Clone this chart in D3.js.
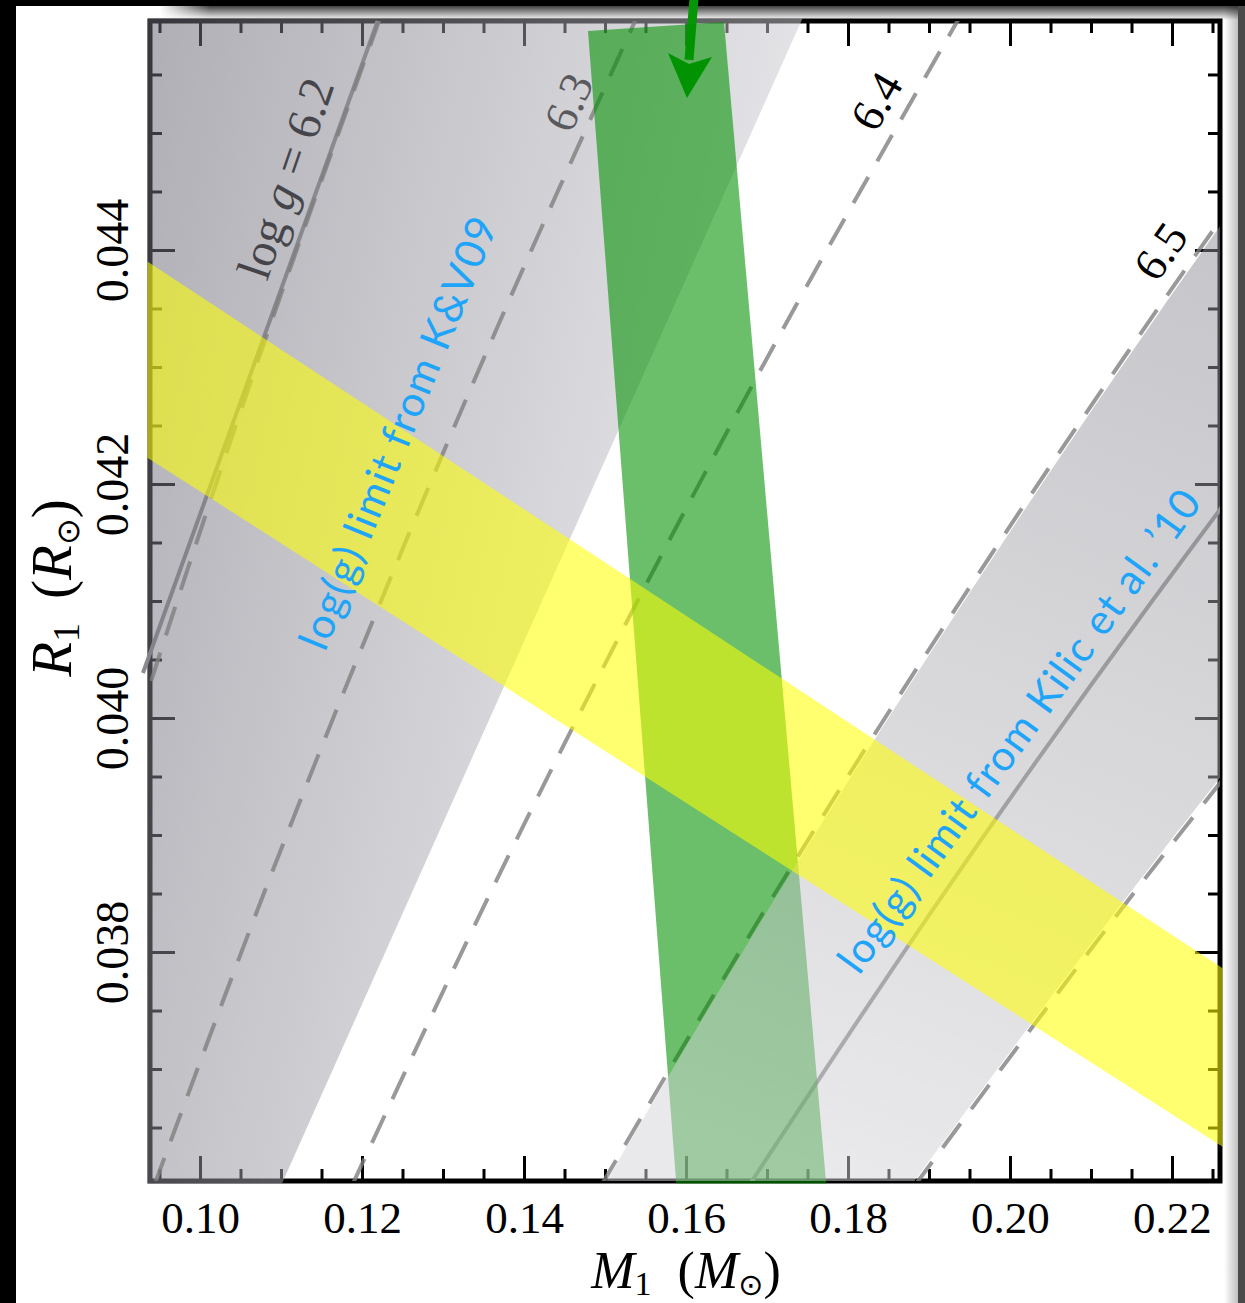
<!DOCTYPE html>
<html>
<head>
<meta charset="utf-8">
<script src="https://cdn.jsdelivr.net/npm/d3@7"></script>
<style>
  body { margin: 0; background: #fff; }
  svg { display: block; }
</style>
</head>
<body>
<div id="chart"></div>
<script>
// Podatki: M1 (Msun) na osi x, R1 (Rsun) na osi y
const massDomain = [0.093827, 0.225926];
const radiusDomain = [0.036043, 0.045957];
const xTickValues = [0.10, 0.12, 0.14, 0.16, 0.18, 0.20, 0.22];
const yTickValues = [0.038, 0.040, 0.042, 0.044];
const xMinorTicks = [0.095, 0.105, 0.11, 0.115, 0.125, 0.13, 0.135, 0.145, 0.15, 0.155, 0.165, 0.17, 0.175,
                     0.185, 0.19, 0.195, 0.205, 0.21, 0.215, 0.225];
const yMinorTicks = [0.0365, 0.037, 0.0375, 0.0385, 0.039, 0.0395, 0.0405, 0.041, 0.0415, 0.0425, 0.043, 0.0435,
                     0.0445, 0.045, 0.0455];

// log g linije: mase odčitane vzdolž vsake linije pri danih radijih
const contourR = [0.0360, 0.0385, 0.0410, 0.0435, 0.0460];
const contourLabels = ["6.2", "6.3", "6.4", "6.5", "6.6"];
const contourM = [
    [0.074922, 0.085689, 0.097179, 0.109391, 0.122326],
    [0.094323, 0.107878, 0.122343, 0.137718, 0.154002],
    [0.118740, 0.135804, 0.154013, 0.173368, 0.193868],
    [0.149494, 0.170978, 0.193903, 0.218271, 0.244081],
    [0.188192, 0.215238, 0.244098, 0.274774, 0.307264]
];

// pas Kilic et al. '10 (zgornji rob, sredina, spodnji rob)
const kilicUpperM = [0.149831, 0.171363, 0.194340, 0.218763, 0.244631];
const kilicCenterM = [0.167728, 0.191833, 0.217555, 0.244895, 0.273853];
const kilicLowerM = [0.187764, 0.214748, 0.243543, 0.274149, 0.306566];

// pas K&V09 (desni rob) in polna linija
const kvEdgeM = [0.10933, 0.17516];
const kvEdgeR = [0.0359, 0.0461];
const kvLineM = [0.09296, 0.12193];
const kvLineR = [0.040385, 0.045957];

// zeleni pas
const greenM = [0.14790, 0.16469, 0.17733, 0.15882];
const greenR = [0.045872, 0.045949, 0.0360, 0.0360];

// rumeni pas
const yellowM = [0.09, 0.23];
const yellowUpperR = [0.04406, 0.03769];
const yellowLowerR = [0.04238, 0.03617];

// zelena puščica
const arrowM = [0.16099, 0.16037, 0.16012];
const arrowR = [0.046154, 0.045624, 0.045299];

const width = 1245;
const height = 1303;
const margin = { top: 21, right: 25, bottom: 122, left: 150 };
const plotLeft = margin.left;
const plotRight = width - margin.right;
const plotTop = margin.top;
const plotBottom = height - margin.bottom;

const svg = d3.select("#chart").append("svg")
    .attr("width", width)
    .attr("height", height);

const defs = svg.append("defs");

const x = d3.scaleLinear().domain(massDomain).range([plotLeft, plotRight]);
const y = d3.scaleLinear().domain(radiusDomain).range([plotBottom, plotTop]);

// okvir slike (črni rob in senca)
const shadow = defs.append("linearGradient").attr("id", "topShadow")
    .attr("x1", 0).attr("y1", 0).attr("x2", 0).attr("y2", 1);
shadow.append("stop").attr("offset", 0).attr("stop-color", "#000").attr("stop-opacity", 0.75);
shadow.append("stop").attr("offset", 1).attr("stop-color", "#000").attr("stop-opacity", 0);
const shadowFade = defs.append("linearGradient").attr("id", "shadowFade")
    .attr("x1", 0).attr("y1", 0).attr("x2", 1).attr("y2", 0);
shadowFade.append("stop").attr("offset", 0).attr("stop-color", "#fff").attr("stop-opacity", 1);
shadowFade.append("stop").attr("offset", 1).attr("stop-color", "#fff").attr("stop-opacity", 0);
const sideShadow = defs.append("linearGradient").attr("id", "sideShadow")
    .attr("x1", 0).attr("y1", 0).attr("x2", 1).attr("y2", 0);
sideShadow.append("stop").attr("offset", 0).attr("stop-color", "#000").attr("stop-opacity", 0);
sideShadow.append("stop").attr("offset", 1).attr("stop-color", "#000").attr("stop-opacity", 0.25);

svg.append("rect").attr("x", 0).attr("y", 0).attr("width", width).attr("height", height).attr("fill", "#fff");
svg.append("rect").attr("x", 160).attr("y", 6).attr("width", 1078).attr("height", 14).attr("fill", "url(#topShadow)");
svg.append("rect").attr("x", 160).attr("y", 6).attr("width", 50).attr("height", 14).attr("fill", "url(#shadowFade)");
svg.append("rect").attr("x", 1224).attr("y", 6).attr("width", 14).attr("height", height).attr("fill", "url(#sideShadow)");
svg.append("rect").attr("x", 1238).attr("y", 0).attr("width", 7).attr("height", height).attr("fill", "#4a4a4a");
svg.append("rect").attr("x", 0).attr("y", 0).attr("width", 16).attr("height", height).attr("fill", "#000");
svg.append("rect").attr("x", 0).attr("y", 0).attr("width", width).attr("height", 6).attr("fill", "#000");

// izrezi
defs.append("clipPath").attr("id", "outerClip").append("rect")
    .attr("x", plotLeft - 2.5).attr("y", plotTop - 2.5)
    .attr("width", plotRight - plotLeft + 5).attr("height", plotBottom - plotTop + 5);
defs.append("clipPath").attr("id", "innerClip").append("rect")
    .attr("x", plotLeft).attr("y", plotTop)
    .attr("width", plotRight - plotLeft).attr("height", plotBottom - plotTop);

// osi
const serif = "'Liberation Serif', 'Times New Roman', serif";
const tickStyle = g => {
    g.select(".domain").remove();
    g.selectAll(".tick line").attr("stroke", "#000").attr("stroke-width", 3);
};

svg.append("g")
    .attr("transform", `translate(0,${plotBottom})`)
    .call(d3.axisBottom(x).tickValues(xTickValues).tickSize(-25).tickPadding(20).tickFormat(d3.format(".2f")))
    .call(tickStyle)
    .selectAll("text")
    .attr("font-family", serif).attr("font-size", 45).attr("fill", "#000");

svg.append("g")
    .attr("transform", `translate(0,${plotBottom})`)
    .call(d3.axisBottom(x).tickValues(xMinorTicks).tickSize(-12).tickFormat(""))
    .call(tickStyle);

svg.append("g")
    .attr("transform", `translate(0,${plotTop})`)
    .call(d3.axisTop(x).tickValues(xTickValues).tickSize(-25).tickFormat(""))
    .call(tickStyle);

svg.append("g")
    .attr("transform", `translate(0,${plotTop})`)
    .call(d3.axisTop(x).tickValues(xMinorTicks).tickSize(-12).tickFormat(""))
    .call(tickStyle);

svg.append("g")
    .attr("transform", `translate(${plotLeft},0)`)
    .call(d3.axisLeft(y).tickValues(yTickValues).tickSize(-25).tickFormat(d3.format(".3f")))
    .call(tickStyle)
    .selectAll("text")
    .attr("font-family", serif).attr("font-size", 46).attr("fill", "#000")
    .attr("transform", "rotate(-90)")
    .attr("x", 0).attr("y", -22).attr("dy", 0)
    .attr("text-anchor", "middle");

svg.append("g")
    .attr("transform", `translate(${plotLeft},0)`)
    .call(d3.axisLeft(y).tickValues(yMinorTicks).tickSize(-12).tickFormat(""))
    .call(tickStyle);

svg.append("g")
    .attr("transform", `translate(${plotRight},0)`)
    .call(d3.axisRight(y).tickValues(yTickValues).tickSize(-25).tickFormat(""))
    .call(tickStyle);

svg.append("g")
    .attr("transform", `translate(${plotRight},0)`)
    .call(d3.axisRight(y).tickValues(yMinorTicks).tickSize(-12).tickFormat(""))
    .call(tickStyle);

svg.append("rect")
    .attr("x", plotLeft).attr("y", plotTop)
    .attr("width", plotRight - plotLeft).attr("height", plotBottom - plotTop)
    .attr("fill", "none").attr("stroke", "#000").attr("stroke-width", 5);

// oznake osi
const xLabel = svg.append("text")
    .attr("x", 686).attr("y", 1288)
    .attr("text-anchor", "middle")
    .attr("font-family", serif).attr("font-size", 52);
xLabel.append("tspan").attr("font-style", "italic").text("M");
xLabel.append("tspan").attr("font-size", 34).attr("dy", 7).text("1");
xLabel.append("tspan").attr("dy", -7).attr("dx", 26).text("(");
xLabel.append("tspan").attr("font-style", "italic").text("M");
xLabel.append("tspan").attr("font-size", 30).attr("dy", 7).attr("font-family", "'DejaVu Sans'").text("\u2299");
xLabel.append("tspan").attr("dy", -7).text(")");

const yLabel = svg.append("text")
    .attr("transform", "translate(71,588) rotate(-90)")
    .attr("text-anchor", "middle")
    .attr("font-family", serif).attr("font-size", 57);
yLabel.append("tspan").attr("font-style", "italic").text("R");
yLabel.append("tspan").attr("font-size", 38).attr("dy", 8).text("1");
yLabel.append("tspan").attr("dy", -8).attr("dx", 24).text("(");
yLabel.append("tspan").attr("font-style", "italic").text("R");
yLabel.append("tspan").attr("font-size", 32).attr("dy", 8).attr("font-family", "'DejaVu Sans'").text("\u2299");
yLabel.append("tspan").attr("dy", -8).text(")");

// polna linija K&V09 (rahlo čez levi rob, kot v originalu)
svg.append("line")
    .attr("x1", x(kvLineM[0])).attr("y1", y(kvLineR[0]))
    .attr("x2", x(kvLineM[1])).attr("y2", y(kvLineR[1]))
    .attr("stroke", "#8c8c8c").attr("stroke-width", 4);

// oznake log g pod sivim pasom
const lab62 = svg.append("text")
    .attr("transform", "translate(285,178) rotate(-71)")
    .attr("text-anchor", "middle").attr("dy", "0.35em")
    .attr("font-family", serif).attr("font-size", 48).attr("fill", "#000");
lab62.append("tspan").text("log ");
lab62.append("tspan").attr("font-style", "italic").text("g");
lab62.append("tspan").text(" = 6.2");

svg.append("text")
    .attr("transform", "translate(568,102) rotate(-66)")
    .attr("text-anchor", "middle").attr("dy", "0.35em")
    .attr("font-family", serif).attr("font-size", 46).attr("fill", "#000")
    .text(contourLabels[1]);

// pas K&V09 z gradientom
const kvGrad = defs.append("linearGradient").attr("id", "kvGrad")
    .attr("gradientUnits", "userSpaceOnUse")
    .attr("x1", 150).attr("y1", 21).attr("x2", 800).attr("y2", 158);
kvGrad.append("stop").attr("offset", 0).attr("stop-color", "rgb(103,103,115)");
kvGrad.append("stop").attr("offset", 1).attr("stop-color", "rgb(206,206,212)");

const kvPoly = [
    [massDomain[0] - 0.01, kvEdgeR[0]],
    [kvEdgeM[0], kvEdgeR[0]],
    [kvEdgeM[1], kvEdgeR[1]],
    [massDomain[0] - 0.01, kvEdgeR[1]]
];
svg.append("path")
    .attr("clip-path", "url(#outerClip)")
    .attr("d", "M" + kvPoly.map(p => [x(p[0]), y(p[1])].join(",")).join("L") + "Z")
    .attr("fill", "url(#kvGrad)").attr("fill-opacity", 0.53);

// log g linije (črtkane)
const contourLine = d3.line()
    .x(d => x(d[0]))
    .y(d => y(d[1]))
    .curve(d3.curveCatmullRom);

const lineLayer = svg.append("g").attr("clip-path", "url(#innerClip)");
contourM.forEach(ms => {
    lineLayer.append("path")
        .attr("d", contourLine(ms.map((m, i) => [m, contourR[i]])))
        .attr("fill", "none")
        .attr("stroke", "#808080").attr("stroke-opacity", 0.8)
        .attr("stroke-width", 4)
        .attr("stroke-dasharray", "30,18");
});

lineLayer.append("path")
    .attr("d", contourLine(kilicCenterM.map((m, i) => [m, contourR[i]])))
    .attr("fill", "none")
    .attr("stroke", "#8a8a8a").attr("stroke-width", 4);

// oznake 6.4 in 6.5
svg.append("text")
    .attr("transform", "translate(876,101) rotate(-60)")
    .attr("text-anchor", "middle").attr("dy", "0.35em")
    .attr("font-family", serif).attr("font-size", 46).attr("fill", "#000")
    .text(contourLabels[2]);
svg.append("text")
    .attr("transform", "translate(1160,251) rotate(-55)")
    .attr("text-anchor", "middle").attr("dy", "0.35em")
    .attr("font-family", serif).attr("font-size", 46).attr("fill", "#000")
    .text(contourLabels[3]);

// zelena puščica
const ax = arrowM.map(m => x(m));
const ay = arrowR.map(r => y(r));
svg.append("line")
    .attr("x1", ax[0]).attr("y1", ay[0]).attr("x2", ax[1]).attr("y2", ay[1])
    .attr("stroke", "#079607").attr("stroke-width", 9);
svg.append("path")
    .attr("d", `M${ax[2]},${ay[2]}L${ax[1] - 21},${ay[1] - 7}L${ax[1]},${ay[1] + 4}L${ax[1] + 23},${ay[1] - 3}Z`)
    .attr("fill", "#079607");

// zeleni pas
svg.append("path")
    .attr("clip-path", "url(#outerClip)")
    .attr("d", "M" + greenM.map((m, i) => [x(m), y(greenR[i])].join(",")).join("L") + "Z")
    .attr("fill", "rgb(0,145,0)").attr("fill-opacity", 0.58);

// pas Kilic et al.
const kilicGrad = defs.append("linearGradient").attr("id", "kilicGrad")
    .attr("gradientUnits", "userSpaceOnUse")
    .attr("x1", 1220).attr("y1", 220).attr("x2", 850).attr("y2", 1181);
kilicGrad.append("stop").attr("offset", 0).attr("stop-color", "rgb(140,140,148)");
kilicGrad.append("stop").attr("offset", 1).attr("stop-color", "rgb(212,212,216)");

const kilicArea = d3.area()
    .y(d => y(d.r))
    .x0(d => x(d.m0))
    .x1(d => x(d.m1))
    .curve(d3.curveCatmullRom);

svg.append("path")
    .attr("clip-path", "url(#innerClip)")
    .attr("d", kilicArea(contourR.map((r, i) => ({ r: r, m0: kilicUpperM[i], m1: kilicLowerM[i] }))))
    .attr("fill", "url(#kilicGrad)").attr("fill-opacity", 0.5);

// rumeni pas
const yellowPoly = [
    [yellowM[0], yellowUpperR[0]],
    [yellowM[1], yellowUpperR[1]],
    [yellowM[1], yellowLowerR[1]],
    [yellowM[0], yellowLowerR[0]]
];
svg.append("path")
    .attr("clip-path", "url(#outerClip)")
    .attr("d", "M" + yellowPoly.map(p => [x(p[0]), y(p[1])].join(",")).join("L") + "Z")
    .attr("fill", "#ffff00").attr("fill-opacity", 0.56);

// modre oznake
const sans = "Lato, 'Open Sans', sans-serif";
svg.append("text")
    .attr("transform", "translate(398,433) rotate(-68)")
    .attr("text-anchor", "middle").attr("dy", "0.35em")
    .attr("font-family", sans).attr("font-size", 42).attr("fill", "#1ea4f8")
    .attr("textLength", 462).attr("lengthAdjust", "spacing")
    .text("log(g) limit from K&V09");

svg.append("text")
    .attr("transform", "translate(1019,731) rotate(-54)")
    .attr("text-anchor", "middle").attr("dy", "0.35em")
    .attr("font-family", sans).attr("font-size", 42).attr("fill", "#1ea4f8")
    .attr("textLength", 585).attr("lengthAdjust", "spacing")
    .text("log(g) limit from Kilic et al. \u201910");
</script>
</body>
</html>
